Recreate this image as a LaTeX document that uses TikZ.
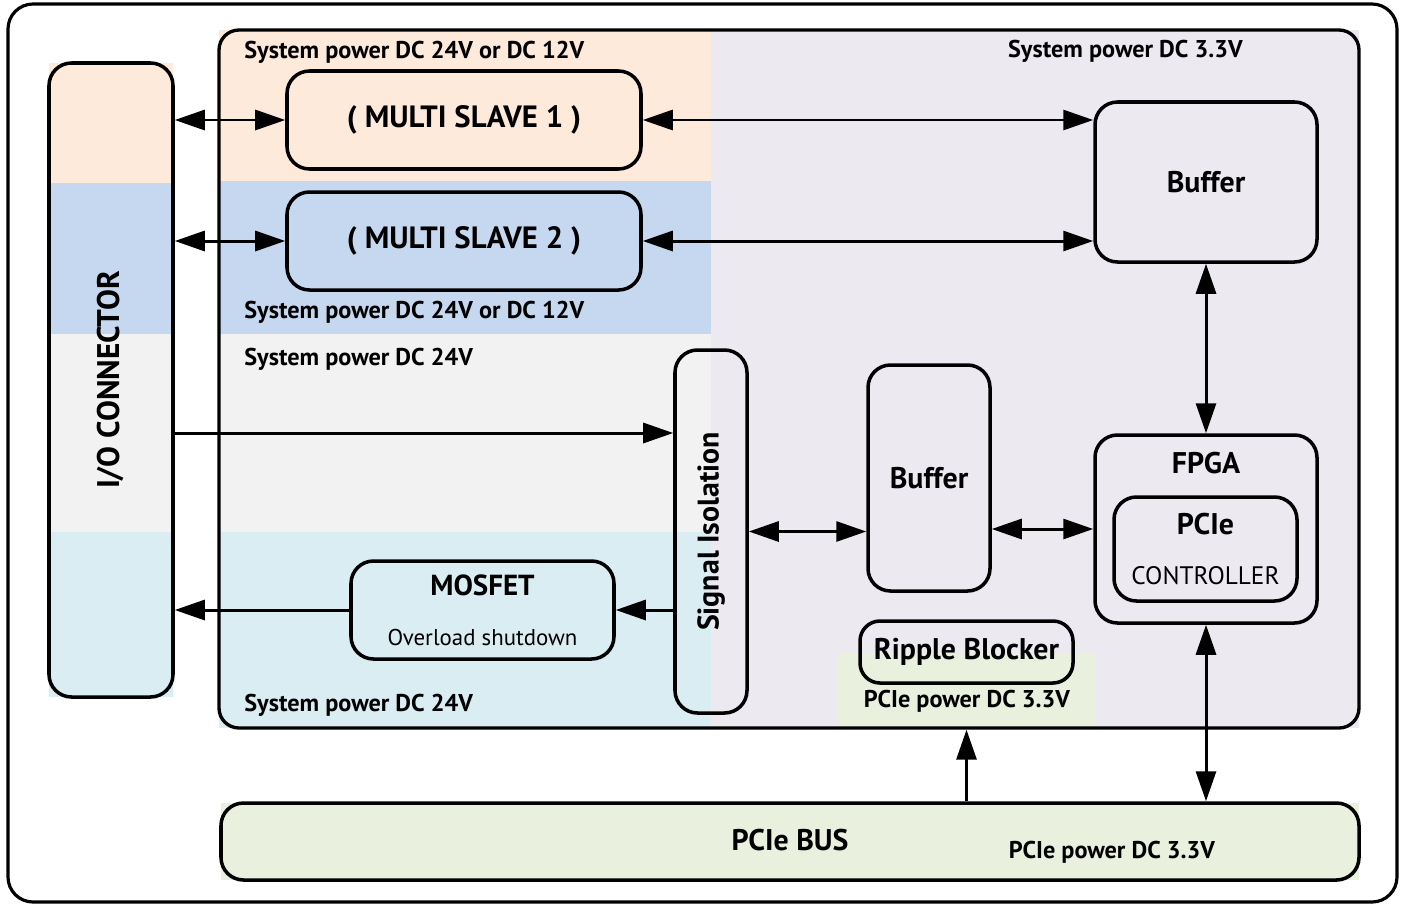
\documentclass[tikz,border=0pt]{standalone}
\usepackage{fontspec}
\setmainfont{PT Sans}
\usetikzlibrary{arrows.meta, positioning, calc}
\definecolor{peach}{RGB}{253,234,219}
\definecolor{slaveblue}{RGB}{198,216,239}
\definecolor{lightgray}{RGB}{242,242,242}
\definecolor{lightcyan}{RGB}{218,237,243}
\definecolor{lavender}{RGB}{236,233,241}
\definecolor{pciegreen}{RGB}{233,240,222}

\begin{document}
\begin{tikzpicture}[y=-1cm, >={Triangle[length=0.6cm, width=0.4cm]},
    blk/.style={draw, line width=2pt, rounded corners=0.45cm, align=center, inner sep=0pt},
    link/.style={line width=1.7pt},
    pwr/.style={font=\bfseries\fontsize{13.8}{16}\selectfont, inner sep=0pt},
    ttl/.style={font=\bfseries\fontsize{17}{20}\selectfont},
    sub/.style={font=\fontsize{13}{28.5}\selectfont}]
    \useasboundingbox (0,0) rectangle (28.08,18.12);
    %\draw[step=1cm, gray, very thin] (0,0) grid (28,18);

    % power domains
    \fill[lavender] (14.22,0.6) rectangle (27.18,14.56);
    \fill[peach] (4.38,0.6) rectangle (14.22,3.62);
    \fill[slaveblue] (4.38,3.62) rectangle (14.22,6.68);
    \fill[lightgray] (4.38,6.68) rectangle (14.22,10.64);
    \fill[lightcyan] (4.38,10.64) rectangle (14.22,14.56);
    \fill[pciegreen] (16.76,13.06) rectangle (21.9,14.56);
    \fill[peach] (0.98,1.26) rectangle (3.46,3.66);
    \fill[slaveblue] (0.98,3.66) rectangle (3.46,6.68);
    \fill[lightgray] (0.98,6.68) rectangle (3.46,10.64);
    \fill[lightcyan] (0.98,10.64) rectangle (3.46,13.94);
    \fill[pciegreen] (4.42,16.06) rectangle (27.18,17.6);

    \draw[line width=1.8pt, rounded corners=0.5cm] (0.16,0.08) rectangle (27.94,18.04);
    \node[draw, line width=1.9pt, rounded corners=0.4cm, minimum width=22.8cm, minimum height=13.96cm] (board) at (15.78,7.58) {};

    \node[pwr, anchor=west] (pwr1) at (4.88,1.04) {System power DC 24V or DC 12V};
    \node[pwr, anchor=east] (pwr33) at (24.86,1.02) {System power DC 3.3V};
    \node[pwr, anchor=west] (pwr2) at (4.88,6.24) {System power DC 24V or DC 12V};
    \node[pwr, anchor=west] (pwr24a) at (4.88,7.18) {System power DC 24V};
    \node[pwr, anchor=west] (pwr24b) at (4.88,14.1) {System power DC 24V};

    \node[blk, minimum width=2.48cm, minimum height=12.68cm] (io) at (2.22,7.6) {};
    \node[ttl, rotate=90, font=\bfseries\fontsize{17.8}{20}\selectfont] (iotext) at (io.center) {I/O CONNECTOR};

    \node[blk, ttl, font=\bfseries\fontsize{17.5}{20}\selectfont, fill=peach, minimum width=7.08cm, minimum height=1.96cm] (ms1) at (9.28,2.4) {( MULTI SLAVE 1 )};
    \node[blk, ttl, font=\bfseries\fontsize{17.5}{20}\selectfont, fill=slaveblue, minimum width=7.08cm, minimum height=1.96cm] (ms2) at (9.28,4.82) {( MULTI SLAVE 2 )};
    \node[blk, ttl, minimum width=4.44cm, minimum height=3.2cm] (buf1) at (24.12,3.64) {Buffer};

    \node[blk, minimum width=1.44cm, minimum height=7.26cm] (sig) at (14.22,10.63) {};
    \node[ttl, rotate=90] (sigtext) at (sig.center) {Signal Isolation};
    \node[blk, sub, fill=lightcyan, minimum width=5.26cm, minimum height=1.96cm] (mos) at (9.65,12.2)
      {{\bfseries\fontsize{16.5}{28.5}\selectfont MOSFET}\\Overload shutdown};
    \node[blk, ttl, minimum width=2.44cm, minimum height=4.52cm] (buf2) at (18.58,9.56) {Buffer};

    \node[blk, minimum width=4.44cm, minimum height=3.76cm] (fpga) at (24.12,10.58) {};
    \node[ttl] (fpgatext) at (24.12,9.26) {FPGA};
    \node[blk, sub, font=\fontsize{14.4}{28.5}\selectfont, minimum width=3.66cm, minimum height=2.08cm] (ctrl) at (24.11,10.98)
      {{\bfseries\fontsize{17}{28.5}\selectfont PCIe}\\CONTROLLER};

    \node[blk, ttl, rounded corners=0.4cm, minimum width=4.26cm, minimum height=1.24cm] (ripple) at (19.33,13.04) {Ripple Blocker};
    \node[pwr] (pwrrip) at (19.34,14.02) {PCIe power DC 3.3V};

    \node[blk, fill=pciegreen, minimum width=22.76cm, minimum height=1.54cm] (bus) at (15.8,16.83) {};
    \node[ttl] (bustext) at (15.8,16.8) {PCIe BUS};
    \node[pwr] (pwrbus) at (22.24,17.04) {PCIe power DC 3.3V};

    \draw[<->, link] (ms1.west -| io.east) -- (ms1.west);
    \draw[<->, link] (ms1.east) -- (ms1.east -| buf1.west);
    \draw[<->, link] (ms2.west -| io.east) -- (ms2.west);
    \draw[<->, link] (ms2.east) -- (ms2.east -| buf1.west);
    \draw[->, link] (io.east |- 0,8.66) -- (sig.west |- 0,8.66);
    \draw[->, link] (sig.west |- mos.east) -- (mos.east);
    \draw[->, link] (mos.west) -- (mos.west -| io.east);
    \draw[<->, link] (sig.east) -- (sig.east -| buf2.west);
    \draw[<->, link] (fpga.west -| buf2.east) -- (fpga.west);
    \draw[<->, link] (buf1.south) -- (fpga.north);
    \draw[<->, link] (fpga.south) -- (fpga.south |- bus.north);
    \draw[->, link] (ripple.south |- bus.north) -- (ripple.south |- board.south);

  \end{tikzpicture}
\end{document}
